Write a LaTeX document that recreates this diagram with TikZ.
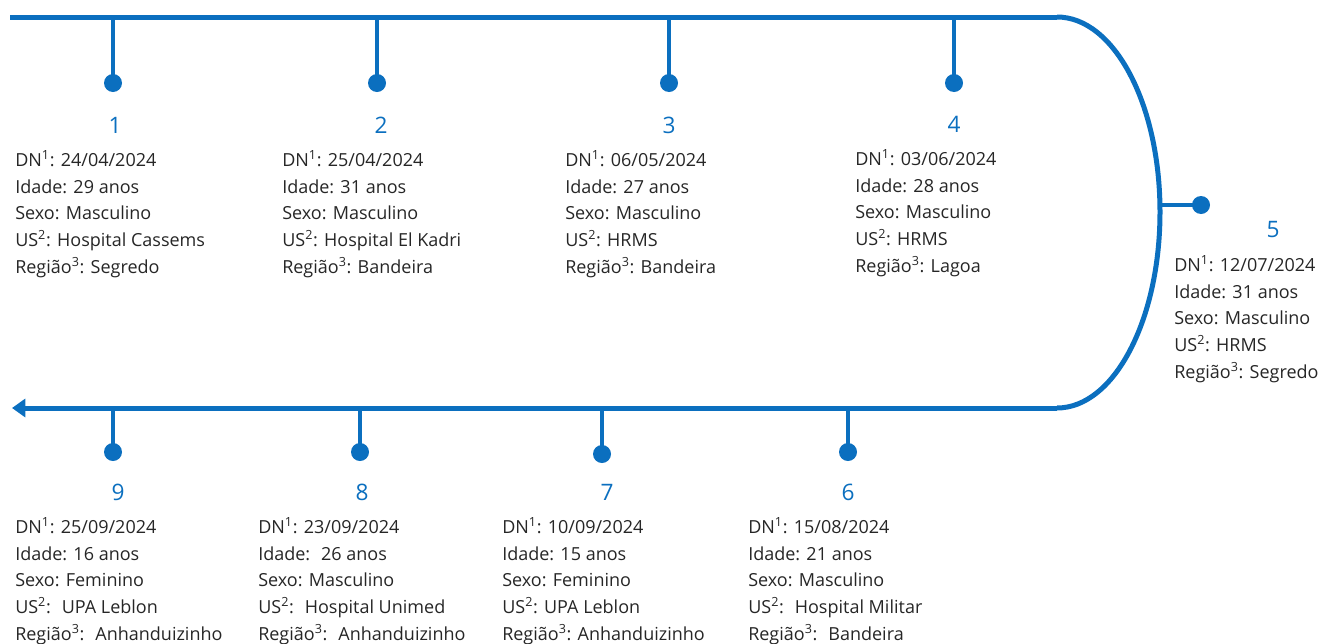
\documentclass[tikz,border=0pt]{standalone}
\usepackage{fontspec}
\setmainfont{Open Sans}
\usepackage{tikz}
\usetikzlibrary{arrows.meta}
\definecolor{tl_blue}{RGB}{11, 111, 191}
\definecolor{txt_grey}{RGB}{38, 38, 38}
\tikzstyle{none}=[inner sep=0pt]
\tikzstyle{dot}=[circle,fill=tl_blue,inner sep=0pt,minimum size=13.5pt]
\tikzstyle{num}=[text=tl_blue,font=\fontsize{17}{20}\selectfont,anchor=base,inner sep=0pt]
\tikzstyle{info}=[text=txt_grey,font=\fontsize{13.5}{20}\selectfont,align=left,
  anchor=base west,inner sep=0pt]
\tikzstyle{axis}=[draw=tl_blue,line width=3.75pt]
\tikzstyle{stem}=[draw=tl_blue,line width=3pt]

\begin{document}
\begin{tikzpicture}[x=0.75pt,y=-0.75pt]
	\useasboundingbox (0,0) rectangle (1331,643);
		\node [style=none] (0) at (10, 17) {};
		\node [style=none] (1) at (1057, 17) {};
		\node [style=none] (2) at (1160, 212) {};
		\node [style=none] (3) at (1057, 408) {};
		\node [style=none] (4) at (12, 408) {};
		\node [style=none] (5) at (113, 17) {};
		\node [style=dot] (6) at (113, 83) {};
		\node [style=none] (7) at (377, 17) {};
		\node [style=dot] (8) at (377, 83) {};
		\node [style=none] (9) at (669, 17) {};
		\node [style=dot] (10) at (669, 83) {};
		\node [style=none] (11) at (954, 17) {};
		\node [style=dot] (12) at (954, 83) {};
		\node [style=none] (13) at (1159, 205) {};
		\node [style=dot] (14) at (1201, 205) {};
		\node [style=none] (15) at (848, 408) {};
		\node [style=dot] (16) at (848, 452) {};
		\node [style=none] (17) at (602, 408) {};
		\node [style=dot] (18) at (602, 454) {};
		\node [style=none] (19) at (360, 408) {};
		\node [style=dot] (20) at (360, 452) {};
		\node [style=none] (21) at (113, 408) {};
		\node [style=dot] (22) at (113, 452) {};
		\node [style=num] (23) at (115, 133) {1};
		\node [style=num] (24) at (381, 133) {2};
		\node [style=num] (25) at (669, 133) {3};
		\node [style=num] (26) at (954, 132) {4};
		\node [style=num] (27) at (1273, 237) {5};
		\node [style=num] (28) at (848, 500) {6};
		\node [style=num] (29) at (607, 500) {7};
		\node [style=num] (30) at (362, 500) {8};
		\node [style=num] (31) at (118, 500) {9};
		% base of a multi-line node is its last line
		\node [style=info] (32) at (15, 273) {DN\textsuperscript{1}: 24/04/2024\\Idade: 29 anos\\Sexo: Masculino\\US\textsuperscript{2}: Hospital Cassems\\Região\textsuperscript{3}: Segredo};
		\node [style=info] (33) at (282, 273) {DN\textsuperscript{1}: 25/04/2024\\Idade: 31 anos\\Sexo: Masculino\\US\textsuperscript{2}: Hospital El Kadri\\Região\textsuperscript{3}: Bandeira};
		\node [style=info] (34) at (565, 273) {DN\textsuperscript{1}: 06/05/2024\\Idade: 27 anos\\Sexo: Masculino\\US\textsuperscript{2}: HRMS\\Região\textsuperscript{3}: Bandeira};
		\node [style=info] (35) at (855, 272) {DN\textsuperscript{1}: 03/06/2024\\Idade: 28 anos\\Sexo: Masculino\\US\textsuperscript{2}: HRMS\\Região\textsuperscript{3}: Lagoa};
		\node [style=info] (36) at (1174, 378) {DN\textsuperscript{1}: 12/07/2024\\Idade: 31 anos\\Sexo: Masculino\\US\textsuperscript{2}: HRMS\\Região\textsuperscript{3}: Segredo};
		\node [style=info] (37) at (748, 640) {DN\textsuperscript{1}: 15/08/2024\\Idade: 21 anos\\Sexo: Masculino\\US\textsuperscript{2}: \ Hospital Militar\\Região\textsuperscript{3}: \ Bandeira};
		\node [style=info] (38) at (502, 640) {DN\textsuperscript{1}: 10/09/2024\\Idade: 15 anos\\Sexo: Feminino\\US\textsuperscript{2}: UPA Leblon\\Região\textsuperscript{3}: Anhanduizinho};
		\node [style=info] (39) at (258, 640) {DN\textsuperscript{1}: 23/09/2024\\Idade: \ 26 anos\\Sexo: Masculino\\US\textsuperscript{2}: \ Hospital Unimed\\Região\textsuperscript{3}: \ Anhanduizinho};
		\node [style=info] (40) at (15, 640) {DN\textsuperscript{1}: 25/09/2024\\Idade: 16 anos\\Sexo: Feminino\\US\textsuperscript{2}: \ UPA Leblon\\Região\textsuperscript{3}: \ Anhanduizinho};
		\draw [style=axis] (0.center) to (1.center);
		\draw [style=axis] (1.center) .. controls +(57, 0) and +(0, -108) .. (2.center)
			.. controls +(0, 108) and +(57, 0) .. (3.center);
		\draw [style=axis, -{Triangle[length=10pt, width=13.5pt]}] (3.center) to (4.center);
		\draw [style=stem] (5.center) to (6.center);
		\draw [style=stem] (7.center) to (8.center);
		\draw [style=stem] (9.center) to (10.center);
		\draw [style=stem] (11.center) to (12.center);
		\draw [style=stem] (13.center) to (14.center);
		\draw [style=stem] (15.center) to (16.center);
		\draw [style=stem] (17.center) to (18.center);
		\draw [style=stem] (19.center) to (20.center);
		\draw [style=stem] (21.center) to (22.center);
\end{tikzpicture}
\end{document}
